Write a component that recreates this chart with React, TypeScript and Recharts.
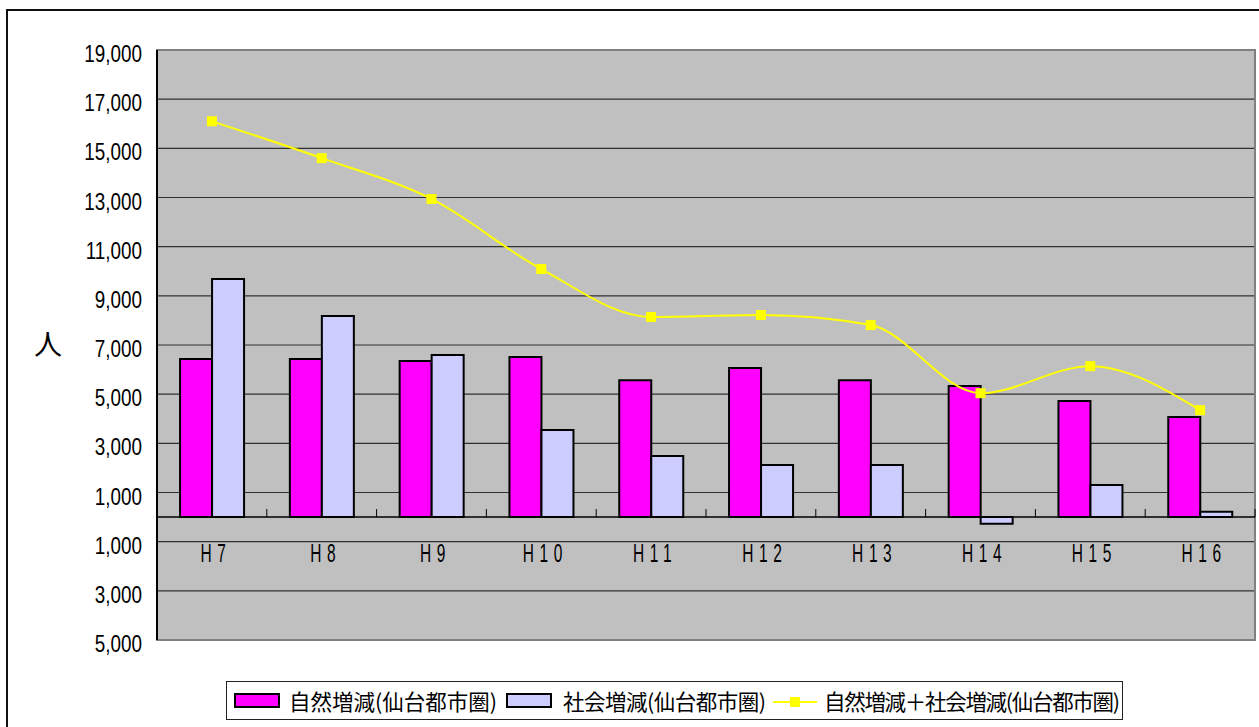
import React from 'react';
import { ComposedChart, Bar, Line, XAxis, YAxis, CartesianGrid, ReferenceLine, ReferenceArea } from 'recharts';

const categories = ['H7', 'H8', 'H9', 'H10', 'H11', 'H12', 'H13', 'H14', 'H15', 'H16'];
const naturalChange = [6430, 6430, 6350, 6510, 5570, 6060, 5570, 5330, 4720, 4070];
const socialChange = [9680, 8180, 6590, 3540, 2480, 2120, 2120, -270, 1310, 215];
const totalChange = [16100, 14600, 12940, 10090, 8140, 8220, 7810, 5040, 6140, 4350];
const yTicks = [-5000, -3000, -1000, 1000, 3000, 5000, 7000, 9000, 11000, 13000, 15000, 17000, 19000];
const yDomain: [number, number] = [-5000, 19000];

const seriesNames = ['自然増減(仙台都市圏)', '社会増減(仙台都市圏)', '自然増減＋社会増減(仙台都市圏)'];

const data = categories.map((c, i) => ({
  name: c,
  natural: naturalChange[i],
  social: socialChange[i],
  total: totalChange[i],
}));

const W = 1259;
const H = 727;
const M = { top: 50, right: 4, bottom: 86, left: 0 };
const YAXIS_W = 157;
const XAXIS_H = 1;
const plotH = H - M.top - M.bottom - XAXIS_H;
const plotW = W - M.left - M.right - YAXIS_W;
const zeroY = M.top + (plotH * (yDomain[1] - 0)) / (yDomain[1] - yDomain[0]);
const band = plotW / categories.length;

const XTick = (props: any) => {
  const { x, payload } = props;
  return (
    <g>
      <line x1={x + band / 2} x2={x + band / 2} y1={zeroY - 8} y2={zeroY} stroke="#000" strokeWidth={1} />
      <g transform={`translate(${x + 4},${zeroY + 45}) scale(0.62,1)`}>
        <text x={0} y={0} textAnchor="middle" fontFamily="Liberation Sans, Arial, sans-serif" fontSize={25} letterSpacing={9} fill="#000">
          {payload.value}
        </text>
      </g>
    </g>
  );
};

const YTick = (props: any) => {
  const { x, y, payload } = props;
  return (
    <g transform={`translate(${x},${y + 12}) scale(0.82,1)`}>
      <text x={0} y={0} textAnchor="end" fontFamily="Liberation Sans, Arial, sans-serif" fontSize={23} fill="#000">
        {Math.abs(payload.value).toLocaleString('en-US')}
      </text>
    </g>
  );
};

const SquareDot = (props: any) => {
  const { cx, cy, index } = props;
  if (cx == null || cy == null) return <g key={index} />;
  return <rect key={index} x={cx - 5} y={cy - 5} width={10} height={10} fill="#FFFF00" />;
};

const YLabel = (props: any) => {
  const vb = props.viewBox || { x: 0, y: M.top, height: plotH };
  return (
    <text x={vb.x + 48} y={vb.y + vb.height / 2 + 10} textAnchor="middle" fontFamily="Noto Sans CJK JP, sans-serif" fontSize={28} fill="#000">
      人
    </text>
  );
};

const legendFont = '"Noto Sans CJK JP", sans-serif';

export default function App() {
  return (
    <div>
      <div style={{ position: 'fixed', left: 6, top: 9, width: 1262, height: 730, border: '2px solid #111', boxSizing: 'border-box', background: '#fff' }} />
      <div style={{ position: 'fixed', left: 0, top: 0, width: W, height: H }}>
        <ComposedChart width={W} height={H} data={data} margin={M} barCategoryGap="21%" barGap={0}>
          <CartesianGrid vertical={false} fill="#C0C0C0" stroke="#303030" strokeWidth={1.2} />
          <ReferenceArea y1={yDomain[0]} y2={yDomain[1]} fill="none" stroke="#808080" strokeWidth={2} ifOverflow="visible" />
          <XAxis dataKey="name" height={XAXIS_H} axisLine={false} tickLine={false} tick={<XTick />} interval={0} />
          <YAxis
            width={YAXIS_W}
            domain={yDomain}
            ticks={yTicks}
            interval={0}
            allowDataOverflow
            axisLine={{ stroke: '#000', strokeWidth: 2 }}
            tickLine={false}
            tickSize={0}
            tickMargin={15}
            tick={<YTick />}
            label={<YLabel />}
          />
          <Bar dataKey="natural" name={seriesNames[0]} fill="#FF00FF" stroke="#000" strokeWidth={2} isAnimationActive={false} />
          <Bar dataKey="social" name={seriesNames[1]} fill="#CCCCFF" stroke="#000" strokeWidth={2} isAnimationActive={false} />
          <ReferenceLine y={0} stroke="#000" strokeWidth={1.5} />
          <Line dataKey="total" name={seriesNames[2]} type="monotone" stroke="#FFFF00" strokeWidth={2} dot={<SquareDot />} activeDot={false} isAnimationActive={false} />
        </ComposedChart>
      </div>
      <div
        style={{
          position: 'fixed',
          left: 226,
          top: 681,
          width: 897,
          height: 39,
          border: '1px solid #222',
          boxSizing: 'border-box',
          background: '#fff',
          fontFamily: legendFont,
          fontSize: 21.5,
          color: '#000',
        }}
      >
        <div style={{ position: 'absolute', left: 7, top: 11, width: 46, height: 15, background: '#FF00FF', border: '2px solid #000', boxSizing: 'border-box' }} />
        <div style={{ position: 'absolute', left: 62, top: 4, lineHeight: '29px', whiteSpace: 'nowrap' }}>{seriesNames[0]}</div>
        <div style={{ position: 'absolute', left: 279, top: 11, width: 46, height: 15, background: '#CCCCFF', border: '2px solid #000', boxSizing: 'border-box' }} />
        <div style={{ position: 'absolute', left: 336, top: 4, lineHeight: '29px', whiteSpace: 'nowrap', letterSpacing: -0.5 }}>{seriesNames[1]}</div>
        <div style={{ position: 'absolute', left: 546, top: 19, width: 44, height: 2, background: '#FFFF00' }} />
        <div style={{ position: 'absolute', left: 563, top: 15, width: 10, height: 10, background: '#FFFF00' }} />
        <div style={{ position: 'absolute', left: 597, top: 4, lineHeight: '29px', whiteSpace: 'nowrap', letterSpacing: -1.3 }}>{seriesNames[2]}</div>
      </div>
    </div>
  );
}
